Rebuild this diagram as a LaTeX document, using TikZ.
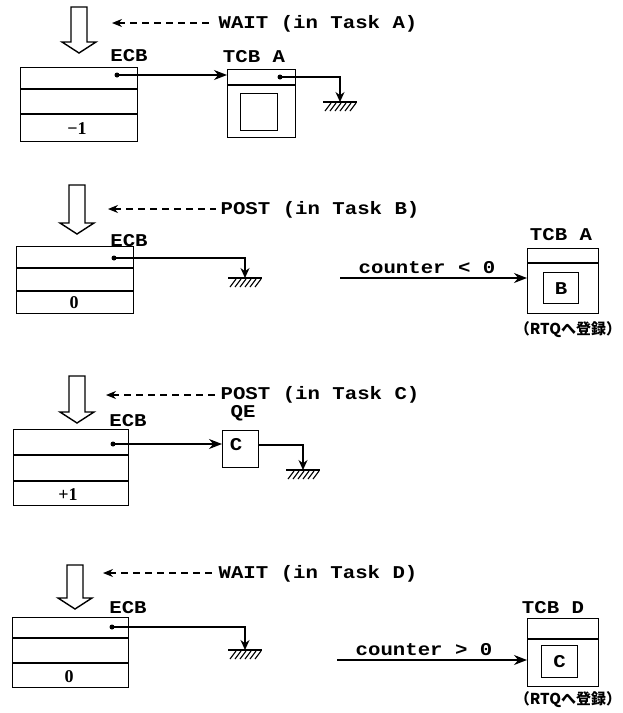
\documentclass[tikz,border=0pt]{standalone}
\usepackage{fontspec}
\setmainfont{Liberation Serif}
\newfontfamily\lblfont[FakeStretch=1.15]{Liberation Mono}
\newfontfamily\jpfont{Noto Sans CJK JP}
\usetikzlibrary{arrows.meta,calc}
\newcommand{\hollowdown}[4]{% name, x center, top y, tip y
  \draw[line width=1.4pt, line join=miter] (#2-8,#3) -- (#2-8,#4-11) -- (#2-17,#4-11) -- (#2,#4) -- (#2+17,#4-11) -- (#2+8,#4-11) -- (#2+8,#3) -- cycle;
  \coordinate (#1) at (#2,#4);}
\tikzset{
  ground/.pic={
    \draw[line width=1.3pt] (-17,0) -- (17,0);
    \foreach \i in {-12,-7,-2,3,8,13} \draw[line width=1.1pt] (\i+3,1) -- (\i-3,9);
  }
}
\begin{document}
\begin{tikzpicture}[x=1pt,y=-1pt, line width=1.3pt,
  lbl/.style={font=\lblfont\bfseries\fontsize{18}{18}\selectfont, inner sep=0pt, anchor=base},
  num/.style={font=\bfseries\fontsize{18}{18}\selectfont, inner sep=0pt, anchor=base},
  jp/.style={font=\jpfont\bfseries\fontsize{15}{15}\selectfont, inner sep=0pt},
  boxn/.style={draw, line width=1.4pt, inner sep=0pt, anchor=north west},
  ptr/.style={-{Stealth[length=13pt,width=10pt]}, line width=1.3pt},
  gnd/.style={-{Stealth[length=10pt,width=9pt]}, line width=1.3pt},
  dsh/.style={{Stealth[length=10pt,width=8pt]}-, dash pattern=on 7pt off 5pt, line width=1.3pt, shorten >=4pt},
  dotc/.style={circle, fill, inner sep=0pt, minimum size=5pt},
]
\useasboundingbox[fill=white] (0,0) rectangle (623,713);

% ================= Panel 1 =================
\hollowdown{h1}{79}{7}{53}
\node[lbl, anchor=base west] (t1) at (218,28) {WAIT (in Task A)};
\coordinate (d1) at (112,23);
\draw[dsh] (d1) -- (d1 -| t1.west);
\node[lbl] (e1l) at (129,61) {ECB};
\node[boxn, minimum width=117pt, minimum height=74pt] (e1) at (20,67) {};
\draw (e1.west |- 0,89) -- (e1.east |- 0,89);
\draw (e1.west |- 0,114) -- (e1.east |- 0,114);
\node[num] (n1) at (77,134) {−1};
\node[dotc] (p1) at (117,75) {};
\node[lbl] (tal) at (254,62) {TCB A};
\node[boxn, minimum width=68pt, minimum height=68pt] (ta) at (227,69) {};
\draw (ta.west |- 0,85) -- (ta.east |- 0,85);
\node[boxn, minimum width=37pt, minimum height=37pt] (tai) at (240,93) {};
\draw[ptr] (p1.center) -- (ta.west |- p1);
\node[dotc] (q1) at (280,77) {};
\coordinate (g1) at (340,102);
\draw[gnd] (q1.center) -| (g1);
\pic at (g1) {ground};

% ================= Panel 2 =================
\hollowdown{h2}{77}{185}{234}
\node[lbl, anchor=base west] (t2) at (220,214) {POST (in Task B)};
\coordinate (d2) at (108,209);
\draw[dsh] (d2) -- (d2 -| t2.west);
\node[lbl] (e2l) at (129,246) {ECB};
\node[boxn, minimum width=117pt, minimum height=67pt] (e2) at (16,246) {};
\draw (e2.west |- 0,268) -- (e2.east |- 0,268);
\draw (e2.west |- 0,291) -- (e2.east |- 0,291);
\node[num] (n2) at (74,308) {0};
\node[dotc] (p2) at (114,258) {};
\coordinate (g2) at (245,278);
\draw[gnd] (p2.center) -| (g2);
\pic at (g2) {ground};
\coordinate (c2a) at (340,278);
\node[boxn, minimum width=71pt, minimum height=65pt] (tb) at (527,248) {};
\draw[ptr] (c2a) -- (tb.west |- c2a);
\node[lbl] (c2t) at (427,273) {counter < 0};
\node[lbl] (tbl) at (561,240) {TCB A};
\draw (tb.west |- 0,263) -- (tb.east |- 0,263);
\node[boxn, minimum width=35pt, minimum height=31pt] (tbi) at (543,272) {};
\node[lbl, anchor=center] (tbx) at (tbi.center) {B};
\node[jp] (r1) at (568,330) {（RTQへ登録）};

% ================= Panel 3 =================
\hollowdown{h3}{77}{376}{423}
\node[lbl, anchor=base west] (t3) at (220,399) {POST (in Task C)};
\coordinate (d3) at (106,395);
\draw[dsh] (d3) -- (d3 -| t3.west);
\node[lbl] (e3l) at (128,426) {ECB};
\node[lbl] (qel) at (243,417) {QE};
\node[boxn, minimum width=115pt, minimum height=76pt] (e3) at (13,429) {};
\draw (e3.west |- 0,455) -- (e3.east |- 0,455);
\draw (e3.west |- 0,481) -- (e3.east |- 0,481);
\node[num] (n3) at (68,500) {+1};
\node[dotc] (p3) at (113,444) {};
\node[boxn, minimum width=36pt, minimum height=37pt] (qe) at (222,430) {};
\node[lbl, anchor=center] (qc) at (236,445) {C};
\draw[ptr] (p3.center) -- (qe.west |- p3);
\coordinate (g3) at (303,470);
\draw[gnd] (qe.east |- 0,445) -| (g3);
\pic at (g3) {ground};

% ================= Panel 4 =================
\hollowdown{h4}{75}{565}{609}
\node[lbl, anchor=base west] (t4) at (218,578) {WAIT (in Task D)};
\coordinate (d4) at (103,573);
\draw[dsh] (d4) -- (d4 -| t4.west);
\node[lbl] (e4l) at (128,613) {ECB};
\node[boxn, minimum width=116pt, minimum height=70pt] (e4) at (12,617) {};
\draw (e4.west |- 0,638) -- (e4.east |- 0,638);
\draw (e4.west |- 0,663) -- (e4.east |- 0,663);
\node[num] (n4) at (69,682) {0};
\node[dotc] (p4) at (112,627) {};
\coordinate (g4) at (245,650);
\draw[gnd] (p4.center) -| (g4);
\pic at (g4) {ground};
\coordinate (c4a) at (337,660);
\node[boxn, minimum width=71pt, minimum height=68pt] (td) at (527,618) {};
\draw[ptr] (c4a) -- (td.west |- c4a);
\node[lbl] (c4t) at (424,655) {counter > 0};
\node[lbl] (tdl) at (553,613) {TCB D};
\draw (td.west |- 0,639) -- (td.east |- 0,639);
\node[boxn, minimum width=36pt, minimum height=32pt] (tdi) at (541,645) {};
\node[lbl, anchor=center] (tdx) at (tdi.center) {C};
\node[jp] (r2) at (568,700) {（RTQへ登録）};
\end{tikzpicture}
\end{document}
